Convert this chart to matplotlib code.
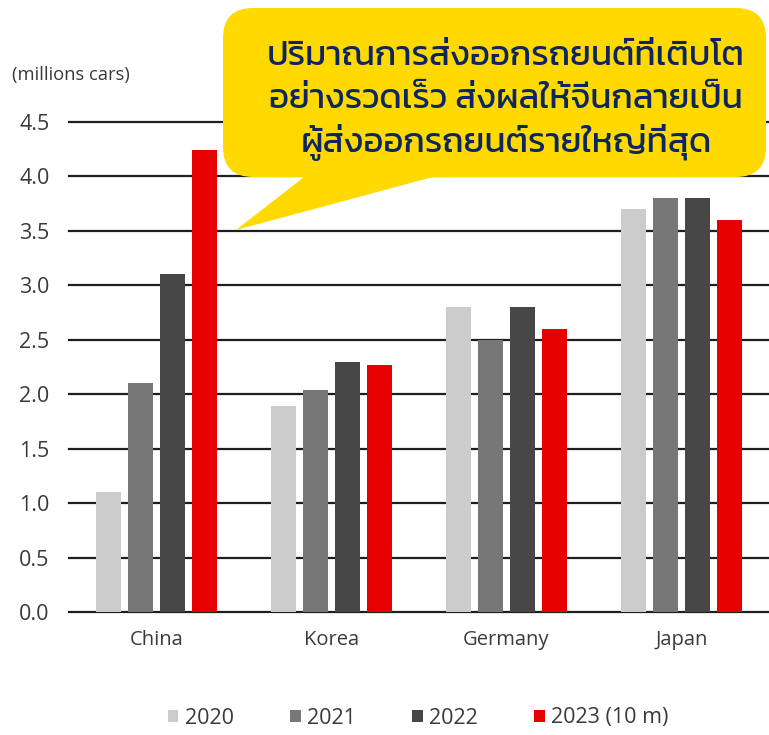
import matplotlib
matplotlib.use("Agg")
import matplotlib.pyplot as plt
import numpy as np
from matplotlib.patches import FancyBboxPatch, Polygon, Patch

categories = ["China", "Korea", "Germany", "Japan"]
series_labels = ["2020", "2021", "2022", "2023 (10 m)"]
v2020 = [1.10, 1.89, 2.80, 3.70]
v2021 = [2.10, 2.04, 2.50, 3.80]
v2022 = [3.10, 2.30, 2.80, 3.80]
v2023 = [4.24, 2.27, 2.60, 3.60]
series_values = [v2020, v2021, v2022, v2023]
colors = ["#cccccc", "#777777", "#474747", "#e60000"]
yticks = [0.0, 0.5, 1.0, 1.5, 2.0, 2.5, 3.0, 3.5, 4.0, 4.5]
unit_label = "(millions cars)"
callout_lines = ["ปริมาณการส่งออกรถยนต์ที่เติบโต",
                 "อย่างรวดเร็ว ส่งผลให้จีนกลายเป็น",
                 "ผู้ส่งออกรถยนต์รายใหญ่ที่สุด"]

LATIN = ["Open Sans", "DejaVu Sans"]
THAI = ["Kanit", "Prompt", "Noto Sans Thai", "Athiti", "DejaVu Sans"]
TXT = "#3a3a3a"

W, H = 769, 735
fig = plt.figure(figsize=(W / 100, H / 100), dpi=100)

ax_left, ax_right = 69 / W, 1.0
ax_bottom = 1 - 612 / H
ax_top = 1 - 122 / H
ax = fig.add_axes([ax_left, ax_bottom, ax_right - ax_left, ax_top - ax_bottom])

x = np.arange(len(categories))
slot = 32 / 175
bw = 25 / 175
for i, (vals, c, lab) in enumerate(zip(series_values, colors, series_labels)):
    ax.bar(x + (i - 1.5) * slot, vals, width=bw, color=c, label=lab, zorder=3,
           edgecolor="none")

ax.set_xlim(-0.5, 3.5)
ax.set_ylim(0, 4.5)
ax.set_yticks(yticks)
ax.set_yticklabels([f"{t:.1f}" for t in yticks], fontfamily=LATIN, fontsize=15.5, color=TXT)
ax.set_xticks(x)
ax.set_xticklabels(categories, fontfamily=LATIN, fontsize=14.5, color=TXT)
ax.tick_params(axis="y", length=0, pad=14)
ax.tick_params(axis="x", length=0, pad=13)
for s in ax.spines.values():
    s.set_visible(False)
for t in yticks:
    ax.axhline(t, color="#1e1e1e", linewidth=1.6, zorder=1, clip_on=False)

fig.text(12 / W, 1 - 75 / H, unit_label, fontfamily=LATIN, fontsize=13.2,
         color=TXT, ha="left", va="center")

handles = [Patch(facecolor=c, edgecolor="none") for c in colors]
leg = fig.legend(handles, series_labels, loc="center", bbox_to_anchor=(418 / W, 1 - 718 / H),
                 ncol=4, frameon=False, handlelength=0.5, handleheight=0.5,
                 handletextpad=0.3, columnspacing=2.6,
                 prop={"family": LATIN, "size": 15.5})
for t in leg.get_texts():
    t.set_color(TXT)

# overlay in pixel coordinates for the callout
ov = fig.add_axes([0, 0, 1, 1], facecolor="none")
ov.set_xlim(0, W)
ov.set_ylim(H, 0)
ov.axis("off")
yellow = "#ffd900"
box = FancyBboxPatch((223 + 30, 8 + 30), 766 - 223 - 60, 177 - 8 - 60,
                     boxstyle="round,pad=30,rounding_size=30",
                     facecolor=yellow, edgecolor="none", zorder=5)
ov.add_patch(box)
ov.add_patch(Polygon([(313, 170), (236, 230), (459, 170)], closed=True,
                     facecolor=yellow, edgecolor="none", zorder=5))
for k, line in enumerate(callout_lines):
    ov.text(506, 56 + k * 43, line, fontfamily=THAI, fontsize=25, fontweight="normal",
            color="#0b2660", ha="center", va="center", zorder=6)

fig.savefig("out.png", dpi=100)
